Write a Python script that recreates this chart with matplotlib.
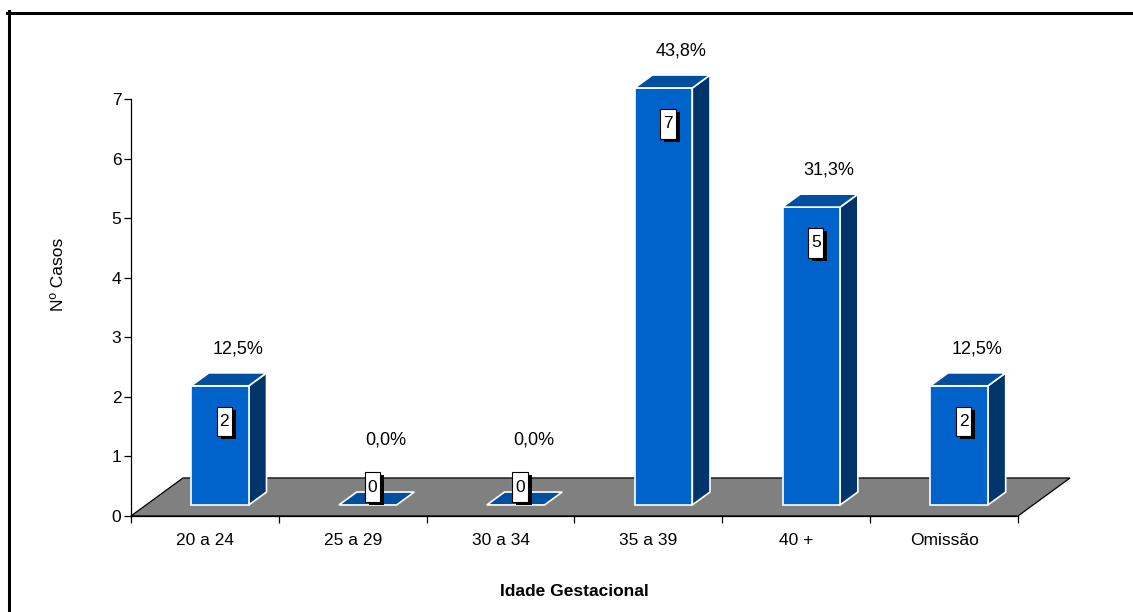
import numpy as np
import matplotlib.pyplot as plt
from matplotlib.patches import Polygon, Rectangle
from matplotlib.lines import Line2D

plt.rcParams['font.family'] = ['Liberation Sans', 'DejaVu Sans']
plt.rcParams['font.size'] = 12.5

# Dados
categorias = ['20 a 24', '25 a 29', '30 a 34', '35 a 39', '40 +', 'Omissão']
casos = [2, 0, 0, 7, 5, 2]
percentuais = [12.5, 0.0, 0.0, 43.8, 31.3, 12.5]
y_ticks = [0, 1, 2, 3, 4, 5, 6, 7]

# Cores
cor_frente = '#0063CC'
cor_topo = '#00509F'
cor_lado = '#00356B'
cor_chao = '#808080'

# Geometria do efeito 3D (unidades dos eixos)
prof_x, prof_y = 0.352, 0.638   # profundidade total do chão
ini_p, esp_p = 0.29, 0.34       # início e espessura da barra (fração da profundidade)
larg_barra = 0.39

fig = plt.figure(figsize=(11.33, 6.12), dpi=100)
ax = fig.add_axes([0.1156, 0.1569, 0.7829, 0.6814])
ax.set_xlim(0, len(categorias))
ax.set_ylim(0, max(y_ticks))

# chão cinzento
n = len(categorias)
chao = Polygon([(0, 0), (n, 0), (n + prof_x, prof_y), (prof_x, prof_y)],
               closed=True, facecolor=cor_chao, edgecolor='black', lw=0.9,
               clip_on=False, zorder=1)
ax.add_patch(chao)

dx, dy = esp_p * prof_x, esp_p * prof_y
y0 = ini_p * prof_y
for i, v in enumerate(casos):
    x0 = i + 0.5 - larg_barra / 2 + ini_p * prof_x
    x1 = x0 + larg_barra
    y1 = y0 + v
    estilo = dict(edgecolor='white', lw=1.2, clip_on=False, zorder=3, joinstyle='miter')
    if v > 0:
        ax.add_patch(Polygon([(x1, y0), (x1 + dx, y0 + dy), (x1 + dx, y1 + dy), (x1, y1)],
                             facecolor=cor_lado, **estilo))
        ax.add_patch(Rectangle((x0, y0), larg_barra, v, facecolor=cor_frente, **estilo))
    ax.add_patch(Polygon([(x0, y1), (x1, y1), (x1 + dx, y1 + dy), (x0 + dx, y1 + dy)],
                         facecolor=cor_topo, **estilo))

    # caixa com o valor (com sombra)
    lx = i + 0.5 + (ini_p + esp_p / 4) * prof_x
    ly = y0 + v - 0.6 if v > 0 else y0 + 0.3
    bw, bh = 0.104, 0.5
    ax.add_patch(Rectangle((lx - bw / 2 + 0.027, ly - bh / 2 - 0.05), bw, bh,
                           facecolor='black', edgecolor='none', clip_on=False, zorder=4))
    ax.add_patch(Rectangle((lx - bw / 2, ly - bh / 2), bw, bh,
                           facecolor='white', edgecolor='black', lw=0.8, clip_on=False, zorder=5))
    ax.text(lx, ly, str(v), ha='center', va='center', zorder=6)

    # percentagem por cima da barra
    px = i + 0.5 + (ini_p + esp_p) * prof_x
    py = max(y0 + v + 0.62, 1.28)
    ax.text(px, py, f'{percentuais[i]:.1f}%'.replace('.', ','),
            ha='center', va='center', fontsize=13, zorder=6)

# eixos
for s in ['top', 'right']:
    ax.spines[s].set_visible(False)
ax.spines['left'].set_color('black')
ax.spines['bottom'].set_color('black')
ax.spines['left'].set_linewidth(0.9)
ax.spines['bottom'].set_linewidth(0.9)

ax.set_yticks(y_ticks)
ax.tick_params(axis='y', direction='out', length=5, width=0.9, pad=2)
ax.set_xticks(range(n + 1))
ax.set_xticklabels([])
ax.set_xticks(np.arange(n) + 0.5, minor=True)
ax.set_xticklabels(categorias, minor=True)
ax.tick_params(axis='x', which='major', direction='out', length=5, width=0.9)
ax.tick_params(axis='x', which='minor', length=0, pad=12)

ax.set_ylabel('Nº Casos')
ax.yaxis.set_label_coords(-0.073, 0.58)
ax.set_xlabel('Idade Gestacional', fontweight='bold')
ax.xaxis.set_label_coords(0.5, -0.163)

# moldura (topo e esquerda)
fig.add_artist(Line2D([7 / 1133, 1], [1 - 12.5 / 612, 1 - 12.5 / 612],
                      color='black', lw=2.2, transform=fig.transFigure))
fig.add_artist(Line2D([8.5 / 1133, 8.5 / 1133], [0, 1 - 11 / 612],
                      color='black', lw=2.2, transform=fig.transFigure))

fig.savefig('out.png', dpi=100)
